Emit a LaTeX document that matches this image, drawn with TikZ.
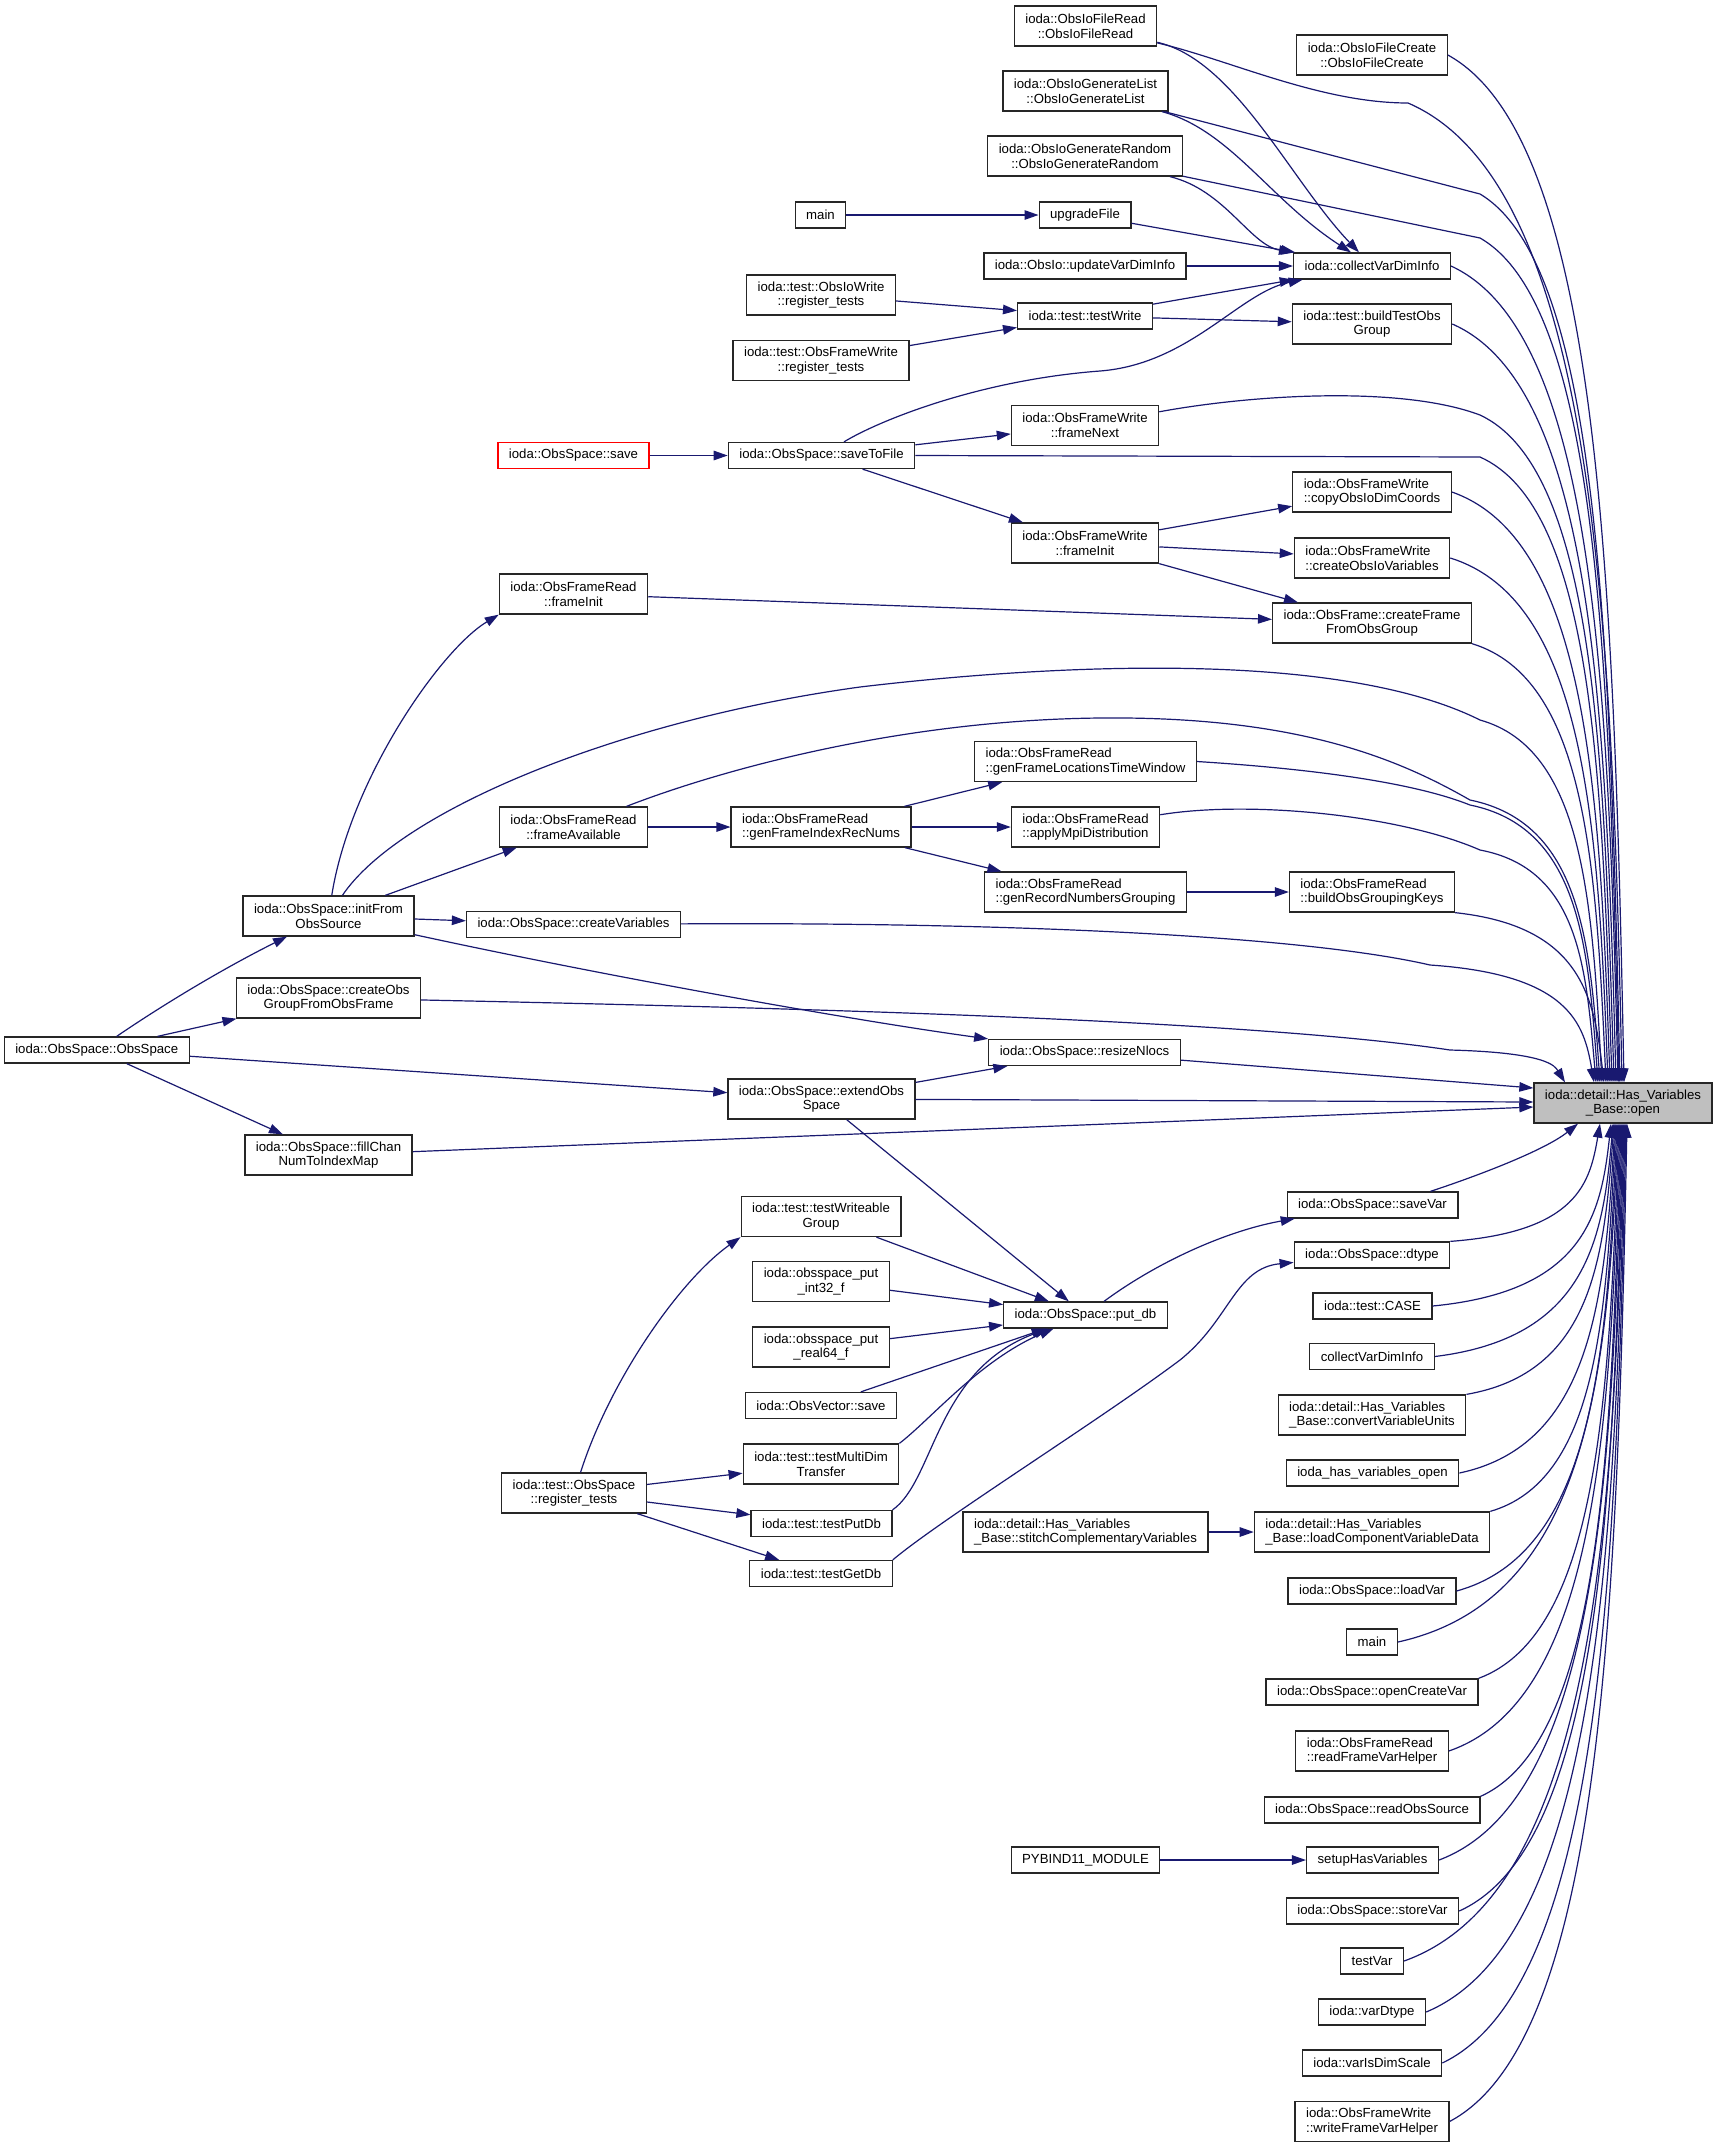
\documentclass[tikz,border=0pt]{standalone}
\usepackage{fontspec}
\setmainfont{Liberation Sans}
\usetikzlibrary{arrows.meta,calc}
\definecolor{edgeblue}{HTML}{191970}

\begin{document}
\begin{tikzpicture}[x=1pt, y=-1pt,
  every node/.style={draw=black!85, line width=1.3pt, fill=white, inner xsep=11pt, inner ysep=2pt, minimum height=26pt, font=\fontsize{13.2}{14.6}\selectfont},
  twoc/.style={minimum height=40pt, align=center},
  twol/.style={minimum height=40pt, align=left},
  rootfn/.style={fill=black!25},
  redfn/.style={draw=red},
  call/.style={draw=edgeblue, line width=1.2pt, -{Triangle[length=14pt,width=9.5pt]}},
  fanin/.style={to path={let \p1=(\tikztostart), \p2=(\tikztotarget) in .. controls ({\x1+0.85*(\x2-\x1)},{\y1+0.08*(\y2-\y1)}) and ({\x2-10pt},{\y2-0.5*(\y2-\y1)}) .. (\tikztotarget)}}]

    \fill[white] (0,0) rectangle (1717,2148);
    \useasboundingbox (0,0) rectangle (1717,2148);

    \node[twoc] (fileRead) at (1085.5,26) {ioda::ObsIoFileRead\\::ObsIoFileRead};
    \node[twoc] (fileCreate) at (1372,55) {ioda::ObsIoFileCreate\\::ObsIoFileCreate};
    \node[twoc] (genList) at (1085.5,91) {ioda::ObsIoGenerateList\\::ObsIoGenerateList};
    \node[twoc] (genRandom) at (1085,156) {ioda::ObsIoGenerateRandom\\::ObsIoGenerateRandom};
    \node (mainA) at (820.5,215) {main};
    \node (upgradeFile) at (1085,215) {upgradeFile};
    \node (updateVDI) at (1085,266) {ioda::ObsIo::updateVarDimInfo};
    \node (collectVDI) at (1372,266) {ioda::collectVarDimInfo};
    \node[twoc] (ioWriteReg) at (821,295) {ioda::test::ObsIoWrite\\::register\_tests};
    \node (testWrite) at (1085,316) {ioda::test::testWrite};
    \node[twoc] (buildTestObs) at (1372,324) {ioda::test::buildTestObs\\Group};
    \node[twoc] (frameWriteReg) at (821,360.5) {ioda::test::ObsFrameWrite\\::register\_tests};
    \node[twoc] (frameNext) at (1085,425.5) {ioda::ObsFrameWrite\\::frameNext};
    \node[redfn] (obsSave) at (573.5,455.5) {ioda::ObsSpace::save};
    \node (saveToFile) at (821.5,455.5) {ioda::ObsSpace::saveToFile};
    \node[twol] (copyDims) at (1372,492) {ioda::ObsFrameWrite\\::copyObsIoDimCoords};
    \node[twoc] (frameInitW) at (1085,543) {ioda::ObsFrameWrite\\::frameInit};
    \node[twol] (createIoVars) at (1372,558) {ioda::ObsFrameWrite\\::createObsIoVariables};
    \node[twoc] (frameInitR) at (573.5,594) {ioda::ObsFrameRead\\::frameInit};
    \node[twoc] (createFrame) at (1372,623) {ioda::ObsFrame::createFrame\\FromObsGroup};

    \node[twol] (genLocTW) at (1085.5,761.5) {ioda::ObsFrameRead\\::genFrameLocationsTimeWindow};
    \node[twoc] (frameAvail) at (573.5,827) {ioda::ObsFrameRead\\::frameAvailable};
    \node[twol] (genIdx) at (821,827) {ioda::ObsFrameRead\\::genFrameIndexRecNums};
    \node[twol] (applyMpi) at (1085.5,827) {ioda::ObsFrameRead\\::applyMpiDistribution};
    \node[twol] (genRecGrp) at (1085.5,892) {ioda::ObsFrameRead\\::genRecordNumbersGrouping};
    \node[twol] (buildKeys) at (1372,892) {ioda::ObsFrameRead\\::buildObsGroupingKeys};
    \node[twoc] (initFrom) at (328.5,916) {ioda::ObsSpace::initFrom\\ObsSource};
    \node (createVariables) at (573.5,924.5) {ioda::ObsSpace::createVariables};
    \node[twoc] (createObsGroup) at (328.5,998) {ioda::ObsSpace::createObs\\GroupFromObsFrame};
    \node (obsSpace) at (96.7,1050) {ioda::ObsSpace::ObsSpace};
    \node (resizeNlocs) at (1084.5,1052.5) {ioda::ObsSpace::resizeNlocs};
    \node[twoc] (extendObs) at (821.5,1099) {ioda::ObsSpace::extendObs\\Space};
    \node[twoc, rootfn] (open) at (1623,1103) {ioda::detail::Has\_Variables\\\_Base::open};
    \node[twoc] (fillChan) at (328.5,1155) {ioda::ObsSpace::fillChan\\NumToIndexMap};

    \node (saveVar) at (1372.5,1205) {ioda::ObsSpace::saveVar};
    \node[twoc] (testWriteable) at (821,1216.5) {ioda::test::testWriteable\\Group};
    \node (dtype) at (1372,1255) {ioda::ObsSpace::dtype};
    \node[twoc] (int32) at (821,1281.5) {ioda::obsspace\_put\\\_int32\_f};
    \node (CASE) at (1372.5,1306) {ioda::test::CASE};
    \node (putDb) at (1085.5,1315) {ioda::ObsSpace::put\_db};
    \node[twoc] (real64) at (821,1347) {ioda::obsspace\_put\\\_real64\_f};
    \node (collectVDI2) at (1372,1356.5) {collectVarDimInfo};
    \node (obsVecSave) at (821,1405.5) {ioda::ObsVector::save};
    \node[twol] (convertUnits) at (1372,1415) {ioda::detail::Has\_Variables\\\_Base::convertVariableUnits};
    \node[twoc] (testMultiDim) at (821,1464) {ioda::test::testMultiDim\\Transfer};
    \node (hasVarOpen) at (1372.5,1473) {ioda\_has\_variables\_open};
    \node[twoc] (regTests) at (574,1493) {ioda::test::ObsSpace\\::register\_tests};
    \node (testPutDb) at (821.5,1523.5) {ioda::test::testPutDb};
    \node[twol] (stitch) at (1085.5,1532) {ioda::detail::Has\_Variables\\\_Base::stitchComplementaryVariables};
    \node[twol] (loadComp) at (1372,1532) {ioda::detail::Has\_Variables\\\_Base::loadComponentVariableData};
    \node (testGetDb) at (821,1573.5) {ioda::test::testGetDb};
    \node (loadVar) at (1372,1591) {ioda::ObsSpace::loadVar};
    \node (mainB) at (1372,1642) {main};
    \node (openCreateVar) at (1372,1692) {ioda::ObsSpace::openCreateVar};
    \node[twol] (readFrameVH) at (1372,1751) {ioda::ObsFrameRead\\::readFrameVarHelper};
    \node (readObsSource) at (1372,1810) {ioda::ObsSpace::readObsSource};
    \node (pybind) at (1085.5,1860) {PYBIND11\_MODULE};
    \node (setupHasVars) at (1372.5,1860) {setupHasVariables};
    \node (storeVar) at (1372.5,1911) {ioda::ObsSpace::storeVar};
    \node (testVar) at (1372,1961) {testVar};
    \node (varDtype) at (1372,2012) {ioda::varDtype};
    \node (varIsDimScale) at (1372,2063) {ioda::varIsDimScale};
    \node[twol] (writeFrameVH) at (1372,2121.5) {ioda::ObsFrameWrite\\::writeFrameVarHelper};

    \draw[call] (fileRead) .. controls (1235,60) and (1290,180) .. (collectVDI);
    \draw[call] (fileRead) .. controls (1230,60) and (1320,103) .. (1408,103) to[fanin] ([xshift=-1pt]open.north);
    \draw[call] (fileCreate.east) to[fanin] ([xshift=1pt]open.north);
    \draw[call] (genList) .. controls (1230,130) and (1270,200) .. (collectVDI);
    \draw[call] (genList) -- (1480,194) to[fanin] ([xshift=-3pt]open.north);
    \draw[call] (genRandom) .. controls (1225,190) and (1250,245) .. (collectVDI);
    \draw[call] (genRandom) -- (1480,238) to[fanin] ([xshift=-4pt]open.north);
    \draw[call] (mainA) -- (upgradeFile);
    \draw[call] (upgradeFile) -- (collectVDI);
    \draw[call] (updateVDI) -- (collectVDI);
    \draw[call] (ioWriteReg) -- (testWrite);
    \draw[call] (frameWriteReg) -- (testWrite);
    \draw[call] (testWrite) -- (collectVDI);
    \draw[call] (testWrite) -- (buildTestObs);
    \draw[call] (collectVDI.east) to[fanin] ([xshift=-5pt]open.north);
    \draw[call] (buildTestObs.east) to[fanin] ([xshift=-7pt]open.north);
    \draw[call] (saveToFile) .. controls (880,420) and (980,380) .. (1100,371) .. controls (1190,364) and (1240,292) .. (collectVDI);
    \draw[call] (obsSave) -- (saveToFile);
    \draw[call] (saveToFile) -- (frameNext);
    \draw[call] (frameNext) .. controls (1250,395) and (1400,385) .. (1480,415) to[fanin] ([xshift=-9pt]open.north);
    \draw[call] (saveToFile.east) -- (1480,457) to[fanin] ([xshift=-11pt]open.north);
    \draw[call] (saveToFile) -- (frameInitW);
    \draw[call] (frameInitW) -- (copyDims);
    \draw[call] (frameInitW) -- (createIoVars);
    \draw[call] (frameInitW) -- (createFrame);
    \draw[call] (copyDims.east) to[fanin] ([xshift=-13pt]open.north);
    \draw[call] (createIoVars.east) to[fanin] ([xshift=-15pt]open.north);
    \draw[call] (createFrame.south east) to[fanin] ([xshift=-17pt]open.north);
    \draw[call] (frameInitR) -- (createFrame);
    \draw[call] (initFrom) .. controls (350,780) and (440,650) .. (frameInitR.south west);
    \draw[call] (initFrom) .. controls (400,810) and (620,720) .. (860,687) .. controls (1020,668) and (1330,645) .. (1480,720) to[fanin] ([xshift=-21pt]open.north);
    \draw[call] (initFrom) -- (frameAvail);
    \draw[call] (frameAvail) .. controls (720,770) and (900,720) .. (1100,718) .. controls (1300,716) and (1400,760) .. (1470,800) to[fanin] ([xshift=-23pt]open.north);
    \draw[call] (frameAvail) -- (genIdx);
    \draw[call] (genIdx) -- (genLocTW);
    \draw[call] (genIdx) -- (applyMpi);
    \draw[call] (genIdx) -- (genRecGrp);
    \draw[call] (genLocTW.east) .. controls (1330,770) and (1420,785) .. (1470,805) to[fanin] ([xshift=-25pt]open.north);
    \draw[call] (applyMpi) .. controls (1250,800) and (1400,815) .. (1480,850) to[fanin] ([xshift=-27pt]open.north);
    \draw[call] (genRecGrp) -- (buildKeys);
    \draw[call] (buildKeys.south east) to[fanin] ([xshift=-19pt]open.north);
    \draw[call] (initFrom) -- (createVariables);
    \draw[call] (createVariables) .. controls (1000,922) and (1300,935) .. (1430,965) to[fanin] ([xshift=-29pt]open.north);
    \draw[call] (initFrom) .. controls (600,975) and (850,1020) .. (resizeNlocs.north west);
    \draw[call] (obsSpace) .. controls (170,1000) and (230,965) .. (initFrom);
    \draw[call] (obsSpace) -- (createObsGroup);
    \draw[call] (obsSpace) -- (extendObs);
    \draw[call] (obsSpace) -- (fillChan);
    \draw[call] (createObsGroup) .. controls (800,1008) and (1250,1020) .. (1450,1050) to[fanin] ([xshift=-58pt]open.north);
    \draw[call] (extendObs) -- (resizeNlocs);
    \draw[call] (resizeNlocs) -- ([yshift=15pt]open.west);
    \draw[call] (extendObs) -- ([yshift=1pt]open.west);
    \draw[call] (fillChan) -- ([yshift=-4pt]open.west);

    \draw[call] (extendObs) -- (putDb);
    \draw[call] (testWriteable) -- (putDb);
    \draw[call] (int32) -- (putDb);
    \draw[call] (real64) -- (putDb);
    \draw[call] (obsVecSave) -- (putDb);
    \draw[call] (testMultiDim.north east) .. controls (930,1420) and (980,1360) .. (putDb);
    \draw[call] (testPutDb.north east) .. controls (935,1480) and (935,1370) .. (putDb);
    \draw[call] (regTests) .. controls (610,1380) and (680,1280) .. (testWriteable.south west);
    \draw[call] (regTests) -- (testMultiDim);
    \draw[call] (regTests) -- (testPutDb);
    \draw[call] (regTests) -- (testGetDb);
    \draw[call] (putDb) .. controls (1160,1260) and (1230,1230) .. (saveVar);
    \draw[call] (testGetDb.north east) .. controls (940,1520) and (1100,1420) .. (1180,1360) .. controls (1230,1320) and (1235,1268) .. (dtype);
    \draw[call] (stitch) -- (loadComp);
    \draw[call] (pybind) -- (setupHasVars);

    \draw[call] ([xshift=-28pt]saveVar.north east) .. controls (1480,1175) and (1545,1150) .. ([xshift=-45pt]open.south);
    \draw[call] (dtype.north east) to[fanin] ([xshift=-23pt]open.south);
    \draw[call] (CASE.east) to[fanin] ([xshift=-12pt]open.south);
    \draw[call] (collectVDI2.east) to[fanin] ([xshift=-10pt]open.south);
    \draw[call] (convertUnits.north east) to[fanin] ([xshift=-9pt]open.south);
    \draw[call] (hasVarOpen.east) to[fanin] ([xshift=-8pt]open.south);
    \draw[call] (loadComp.north east) to[fanin] ([xshift=-7pt]open.south);
    \draw[call] (loadVar.east) to[fanin] ([xshift=-6pt]open.south);
    \draw[call] (mainB.east) to[fanin] ([xshift=-5pt]open.south);
    \draw[call] (openCreateVar.north east) to[fanin] ([xshift=-4pt]open.south);
    \draw[call] (readFrameVH.east) to[fanin] ([xshift=-3pt]open.south);
    \draw[call] (readObsSource.north east) to[fanin] ([xshift=-2pt]open.south);
    \draw[call] (setupHasVars.east) to[fanin] ([xshift=-1pt]open.south);
    \draw[call] (storeVar.east) to[fanin] (open.south);
    \draw[call] (testVar.east) to[fanin] ([xshift=1pt]open.south);
    \draw[call] (varDtype.east) to[fanin] ([xshift=2pt]open.south);
    \draw[call] (varIsDimScale.east) to[fanin] ([xshift=3pt]open.south);
    \draw[call] (writeFrameVH.east) to[fanin] ([xshift=4pt]open.south);
\end{tikzpicture}
\end{document}
